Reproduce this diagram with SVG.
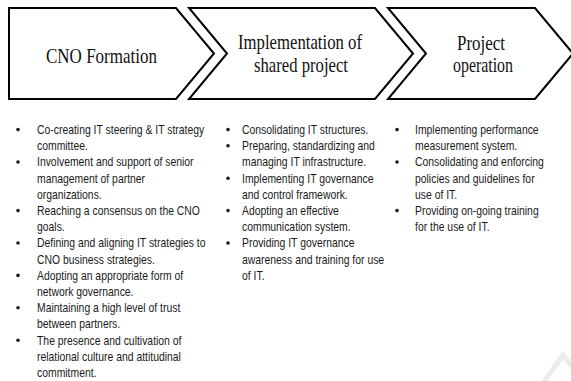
<svg xmlns="http://www.w3.org/2000/svg" width="571" height="381" viewBox="0 0 571 381">
  <style>
    .stage { fill: #ffffff; stroke: #000000; stroke-width: 2; stroke-linejoin: miter; }
    .title { font-family: "Liberation Serif", "Times New Roman", serif; font-size: 21px; fill: #111111; text-anchor: middle; }
    .item { font-family: "Liberation Sans", Arial, sans-serif; font-size: 13px; fill: #1a1a1a; }
    .dot { fill: #1a1a1a; }
  </style>
  <rect width="571" height="381" fill="#ffffff"/>

  <!-- Stage 1 -->
  <g id="stage-cno-formation">
    <path class="stage" d="M9,8 H176 L214,53.5 L176,99 H9 Z"/>
    <text class="title" x="101.5" y="63" textLength="111" lengthAdjust="spacingAndGlyphs">CNO Formation</text>
  </g>

  <!-- Stage 2 -->
  <g id="stage-implementation">
    <path class="stage" d="M189,8 H375 L413,53.5 L375,99 H189 L227,53.5 Z"/>
    <text class="title" x="300" y="49" textLength="124" lengthAdjust="spacingAndGlyphs">Implementation of</text>
    <text class="title" x="301" y="72" textLength="94" lengthAdjust="spacingAndGlyphs">shared project</text>
  </g>

  <!-- Stage 3 -->
  <g id="stage-operation">
    <path class="stage" d="M388,8 H535 L573,53.5 L535,99 H388 L426,53.5 Z"/>
    <text class="title" x="481" y="50" textLength="48" lengthAdjust="spacingAndGlyphs">Project</text>
    <text class="title" x="483" y="72" textLength="60" lengthAdjust="spacingAndGlyphs">operation</text>
  </g>

  <!-- Column 1 items -->
  <g id="list-cno-formation">
    <g class="dot">
      <circle cx="18" cy="129.6" r="1.8"/>
      <circle cx="18" cy="162" r="1.8"/>
      <circle cx="18" cy="210.6" r="1.8"/>
      <circle cx="18" cy="243" r="1.8"/>
      <circle cx="18" cy="275.4" r="1.8"/>
      <circle cx="18" cy="307.8" r="1.8"/>
      <circle cx="18" cy="340.2" r="1.8"/>
    </g>
    <g transform="translate(37,0) scale(0.8,1)">
      <text class="item" x="0" y="134">Co-creating IT steering &amp; IT strategy</text>
      <text class="item" x="0" y="150.2">committee.</text>
      <text class="item" x="0" y="166.4">Involvement and support of senior</text>
      <text class="item" x="0" y="182.6">management of partner</text>
      <text class="item" x="0" y="198.8">organizations.</text>
      <text class="item" x="0" y="215">Reaching a consensus on the CNO</text>
      <text class="item" x="0" y="231.2">goals.</text>
      <text class="item" x="0" y="247.4">Defining and aligning IT strategies to</text>
      <text class="item" x="0" y="263.6">CNO business strategies.</text>
      <text class="item" x="0" y="279.8">Adopting an appropriate form of</text>
      <text class="item" x="0" y="296">network governance.</text>
      <text class="item" x="0" y="312.2">Maintaining a high level of trust</text>
      <text class="item" x="0" y="328.4">between partners.</text>
      <text class="item" x="0" y="344.6">The presence and cultivation of</text>
      <text class="item" x="0" y="360.8">relational culture and attitudinal</text>
      <text class="item" x="0" y="377">commitment.</text>
    </g>
  </g>

  <!-- Column 2 items -->
  <g id="list-implementation">
    <g class="dot">
      <circle cx="228" cy="129.6" r="1.8"/>
      <circle cx="228" cy="145.8" r="1.8"/>
      <circle cx="228" cy="178.2" r="1.8"/>
      <circle cx="228" cy="210.6" r="1.8"/>
      <circle cx="228" cy="243" r="1.8"/>
    </g>
    <g transform="translate(242,0) scale(0.8,1)">
      <text class="item" x="0" y="134">Consolidating IT structures.</text>
      <text class="item" x="0" y="150.2">Preparing, standardizing and</text>
      <text class="item" x="0" y="166.4">managing IT infrastructure.</text>
      <text class="item" x="0" y="182.6">Implementing IT governance</text>
      <text class="item" x="0" y="198.8">and control framework.</text>
      <text class="item" x="0" y="215">Adopting an effective</text>
      <text class="item" x="0" y="231.2">communication system.</text>
      <text class="item" x="0" y="247.4">Providing IT governance</text>
      <text class="item" x="0" y="263.6">awareness and training for use</text>
      <text class="item" x="0" y="279.8">of IT.</text>
    </g>
  </g>

  <!-- Column 3 items -->
  <g id="list-operation">
    <g class="dot">
      <circle cx="397" cy="129.6" r="1.8"/>
      <circle cx="397" cy="162" r="1.8"/>
      <circle cx="397" cy="210.6" r="1.8"/>
    </g>
    <g transform="translate(415,0) scale(0.8,1)">
      <text class="item" x="0" y="134">Implementing performance</text>
      <text class="item" x="0" y="150.2">measurement system.</text>
      <text class="item" x="0" y="166.4">Consolidating and enforcing</text>
      <text class="item" x="0" y="182.6">policies and guidelines for</text>
      <text class="item" x="0" y="198.8">use of IT.</text>
      <text class="item" x="0" y="215">Providing on-going training</text>
      <text class="item" x="0" y="231.2">for the use of IT.</text>
    </g>
  </g>

  <!-- faint corner mark -->
  <path d="M543,383 L563,355 L573,368" fill="none" stroke="#ececec" stroke-width="5"/>
</svg>
